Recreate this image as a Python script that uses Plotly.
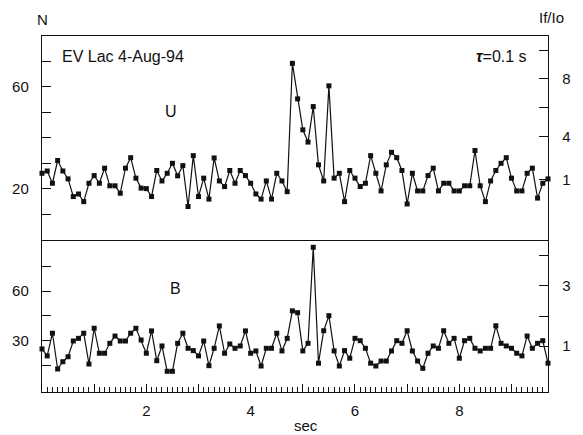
import plotly.graph_objects as go

# time bins, 0.1 s
t = [round(i * 0.1, 1) for i in range(98)]

# U band counts per 0.1 s bin
u_counts = [26.1, 27.0, 22.2, 31.1, 27.0, 23.9, 17.0, 18.0, 15.0, 22.2,
            25.2, 22.2, 28.1, 21.2, 21.2, 18.3, 28.1, 32.2, 24.2, 20.3,
            20.1, 17.0, 27.2, 23.1, 26.1, 30.0, 25.1, 29.1, 13.1, 33.0,
            17.0, 24.2, 16.0, 32.1, 23.1, 20.9, 27.2, 22.2, 27.2, 25.2,
            22.2, 18.0, 16.0, 23.1, 16.0, 26.1, 23.1, 18.9, 69.1, 55.2,
            43.1, 38.3, 52.2, 29.4, 23.1, 60.3, 24.2, 26.1, 15.0, 27.2,
            24.2, 20.9, 22.2, 33.0, 26.1, 19.2, 29.4, 34.3, 32.2, 27.2,
            14.1, 26.1, 19.2, 19.2, 25.2, 28.1, 19.2, 22.2, 22.2, 19.2,
            19.2, 21.2, 21.2, 35.0, 21.2, 15.0, 23.1, 27.2, 30.0, 32.2,
            24.2, 19.2, 19.2, 26.1, 28.1, 16.4, 22.2, 23.9]

# B band counts per 0.1 s bin
b_counts = [25.0, 20.8, 34.5, 12.9, 17.3, 20.3, 29.8, 31.4, 34.5, 15.9,
            37.5, 22.4, 22.4, 28.4, 32.8, 29.8, 29.8, 34.5, 37.5, 30.4,
            22.4, 35.9, 17.9, 26.8, 11.5, 11.5, 28.4, 34.5, 25.4, 24.0,
            20.8, 29.8, 14.9, 25.4, 38.9, 22.4, 28.0, 25.4, 26.8, 35.9,
            22.4, 23.8, 14.7, 25.4, 25.4, 34.5, 23.8, 31.4, 48.0, 46.9,
            23.8, 28.4, 86.4, 16.4, 36.0, 45.1, 23.8, 14.7, 24.0, 19.4,
            31.4, 30.0, 25.4, 16.4, 14.7, 17.7, 17.7, 23.8, 30.0, 28.4,
            36.0, 23.8, 17.7, 13.3, 22.4, 26.8, 25.4, 36.0, 28.4, 31.4,
            19.4, 30.0, 31.4, 25.4, 23.8, 25.4, 25.4, 39.0, 28.4, 26.8,
            25.4, 22.4, 20.8, 32.8, 25.4, 28.4, 30.0, 16.4]

x_tickvals = [1, 2, 3, 4, 5, 6, 7, 8, 9]
x_ticktext = ["", "2", "", "4", "", "6", "", "8", ""]
u_left_vals = [10, 20, 30, 40, 50, 60, 70]
u_left_text = ["", "20", "", "", "", "60", ""]
u_right_vals = [1, 4, 6, 8, 10]
u_right_text = ["1", "4", "", "8", ""]
b_left_vals = [15, 30, 45, 60, 75]
b_left_text = ["", "30", "", "60", ""]
b_right_vals = [1, 2, 3, 4]
b_right_text = ["1", "", "3", ""]

FONT = "Liberation Sans, Arial, Helvetica, sans-serif"
INK = "#111111"

W, H = 583, 435
L, R, T, B = 40, 20, 36, 43
pw, ph = W - L - R, H - T - B
def px(x):
    return (x - L) / pw
def py(y):
    return (H - B - y) / ph

split = py(240)

fig = go.Figure()
line = dict(color=INK, width=1.2)
mk = dict(symbol="square", size=5, color=INK)
fig.add_trace(go.Scatter(x=t, y=u_counts, xaxis="x2", yaxis="y2", mode="lines+markers",
                         line=line, marker=mk, cliponaxis=False, showlegend=False, hoverinfo="skip"))
fig.add_trace(go.Scatter(x=t, y=b_counts, xaxis="x", yaxis="y", mode="lines+markers",
                         line=line, marker=mk, cliponaxis=False, showlegend=False, hoverinfo="skip"))
# empty traces to register right-hand ratio axes
fig.add_trace(go.Scatter(x=[None], y=[None], xaxis="x2", yaxis="y3", showlegend=False, hoverinfo="skip"))
fig.add_trace(go.Scatter(x=[None], y=[None], xaxis="x", yaxis="y4", showlegend=False, hoverinfo="skip"))

tickfont = dict(family=FONT, size=15, color=INK)
axline = dict(showline=True, linecolor=INK, linewidth=1.4, showgrid=False, zeroline=False)

fig.update_layout(
    width=W, height=H,
    margin=dict(l=L, r=R, t=T, b=B),
    paper_bgcolor="white", plot_bgcolor="white",
    xaxis=dict(domain=[0, 1], anchor="y", range=[0, 9.7], mirror=False,
               tickmode="array", tickvals=x_tickvals, ticktext=x_ticktext,
               ticks="inside", ticklen=8, tickwidth=1, tickcolor=INK,
               minor=dict(dtick=0.1, tick0=0, ticks="inside", ticklen=5, tickwidth=1, tickcolor=INK),
               tickfont=tickfont, ticklabelstandoff=5, **axline),
    xaxis2=dict(domain=[0, 1], anchor="y2", range=[0, 9.7], mirror=True,
                showticklabels=False, ticks="", **axline),
    yaxis=dict(domain=[0, split], anchor="x", range=[-1.0, 90.8],
               tickmode="array", tickvals=b_left_vals, ticktext=b_left_text,
               ticks="inside", ticklen=9, tickwidth=1, tickcolor=INK,
               tickfont=tickfont, ticklabelstandoff=9, **axline),
    yaxis2=dict(domain=[split, 1], anchor="x2", range=[0, 79.8],
                tickmode="array", tickvals=u_left_vals, ticktext=u_left_text,
                ticks="inside", ticklen=9, tickwidth=1, tickcolor=INK,
                tickfont=tickfont, ticklabelstandoff=9, **axline),
    yaxis3=dict(overlaying="y2", side="right", anchor="x2", range=[-3.16, 10.97],
                tickmode="array", tickvals=u_right_vals, ticktext=u_right_text,
                ticks="inside", ticklen=9, tickwidth=1, tickcolor=INK,
                tickfont=tickfont, ticklabelstandoff=10, **axline),
    yaxis4=dict(overlaying="y", side="right", anchor="x", range=[-0.53, 4.53],
                tickmode="array", tickvals=b_right_vals, ticktext=b_right_text,
                ticks="inside", ticklen=9, tickwidth=1, tickcolor=INK,
                tickfont=tickfont, ticklabelstandoff=10, **axline),
)

def ann(text, x, y, xanchor="center", size=15):
    fig.add_annotation(text=text, x=px(x), y=py(y), xref="paper", yref="paper",
                       xanchor=xanchor, yanchor="middle", showarrow=False,
                       font=dict(family=FONT, size=size, color=INK))

ann("N", 40.5, 19)
ann("If/Io", 582, 18, xanchor="right")
ann("EV Lac 4-Aug-94", 59, 56, xanchor="left", size=16)
ann("<b><i>τ</i></b>=0.1 s", 543, 56, xanchor="right", size=16)
ann("U", 173, 112, size=16)
ann("B", 178, 288, size=16)
ann("sec", 313, 426)

fig.write_html("out.html")
